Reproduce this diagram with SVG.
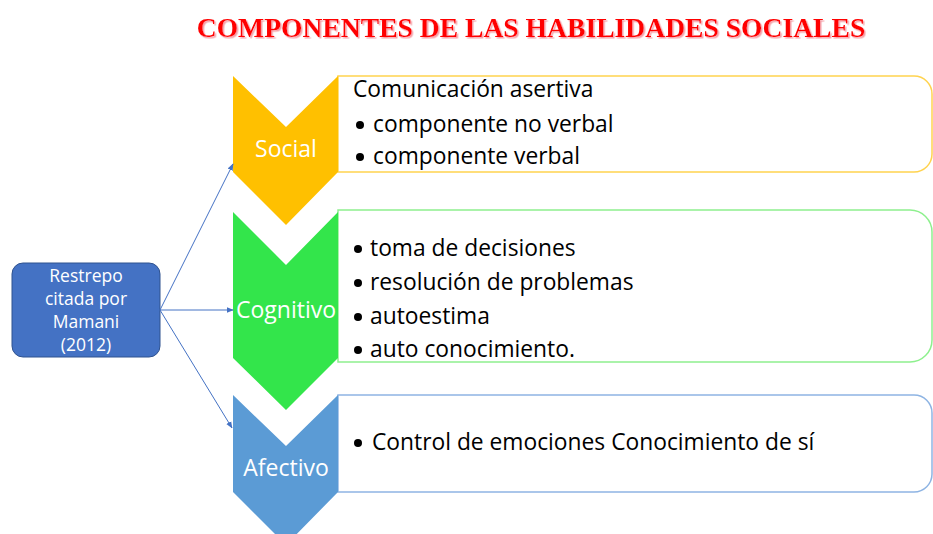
<svg xmlns="http://www.w3.org/2000/svg" width="933" height="534" viewBox="0 0 933 534">
<style>
.title{font-family:"Liberation Serif",serif;font-weight:bold;font-size:27.6px;fill:#FF0000;text-anchor:middle;}
.lbl{font-family:"Open Sans","Noto Sans",sans-serif;font-size:23px;fill:#FFFFFF;text-anchor:middle;}
.item{font-family:"Open Sans","Noto Sans",sans-serif;font-size:22.8px;fill:#000000;}
.src{font-family:"Open Sans","Noto Sans",sans-serif;font-size:17.5px;fill:#FFFFFF;text-anchor:middle;}
.conn{stroke:#4472C4;stroke-width:1;fill:none;marker-end:url(#arr);}
.box{fill:#FFFFFF;stroke-width:1.5;}
</style>
<defs>
<marker id="arr" viewBox="0 0 10 10" refX="9" refY="5" markerWidth="7" markerHeight="7" orient="auto" markerUnits="userSpaceOnUse">
<path d="M0,1 L10,5 L0,9 z" fill="#4472C4"/>
</marker>
<filter id="sh" filterUnits="userSpaceOnUse" x="150" y="0" width="780" height="60">
<feDropShadow dx="1.5" dy="1.5" stdDeviation="0.3" flood-color="#F5A0A8" flood-opacity="1"/>
</filter>
</defs>
<rect width="933" height="534" fill="#FFFFFF"/>
<g filter="url(#sh)">
<text class="title" x="531" y="37">COMPONENTES DE LAS HABILIDADES SOCIALES</text>
</g>

<g id="social">
<path class="box" stroke="#FFD34F" d="M338,76 H914 A18,18 0 0 1 932,94 V154 A18,18 0 0 1 914,172 H338 Z"/>
<path d="M233,76 L286,127 L338,76 V172 L286,225 L233,172 Z" fill="#FFC000"/>
<text class="lbl" x="286" y="157">Social</text>
<text class="item" x="353" y="97">Comunicación asertiva</text>
<circle cx="360" cy="125" r="4" fill="#000"/>
<text class="item" x="373" y="132">componente no verbal</text>
<circle cx="360" cy="157" r="4" fill="#000"/>
<text class="item" x="373" y="164">componente verbal</text>
</g>

<g id="cognitivo">
<path class="box" stroke="#8EF08E" d="M338,210 H910 A22,22 0 0 1 932,232 V340 A22,22 0 0 1 910,362 H338 Z"/>
<path d="M233,212 L286,265 L338,212 V358 L286,410 L233,358 Z" fill="#33E54B"/>
<text class="lbl" x="286" y="318">Cognitivo</text>
<circle cx="358" cy="249" r="4" fill="#000"/>
<text class="item" x="370" y="256">toma de decisiones</text>
<circle cx="358" cy="283" r="4" fill="#000"/>
<text class="item" x="370" y="290">resolución de problemas</text>
<circle cx="358" cy="317" r="4" fill="#000"/>
<text class="item" x="370" y="324">autoestima</text>
<circle cx="358" cy="350" r="4" fill="#000"/>
<text class="item" x="370" y="357">auto conocimiento.</text>
</g>

<g id="afectivo">
<path class="box" stroke="#8EB4E3" d="M338,395 H914 A18,18 0 0 1 932,413 V474 A18,18 0 0 1 914,492 H338 Z"/>
<path d="M233,395 L286,446 L338,395 V492 L286,545 L233,492 Z" fill="#5B9BD5"/>
<text class="lbl" x="286" y="476">Afectivo</text>
<circle cx="358" cy="443" r="4" fill="#000"/>
<text class="item" x="372" y="450">Control de emociones Conocimiento de sí</text>
</g>

<g id="source">
<rect x="12" y="263" width="148" height="94" rx="11" ry="11" fill="#4472C4" stroke="#2F528F" stroke-width="1"/>
<text class="src" x="86" y="282">Restrepo</text>
<text class="src" x="86" y="305">citada por</text>
<text class="src" x="86" y="328">Mamani</text>
<text class="src" x="86" y="351">(2012)</text>
</g>

<g id="connectors">
<line class="conn" x1="160" y1="310" x2="233" y2="164"/>
<line class="conn" x1="160" y1="310" x2="233" y2="310"/>
<line class="conn" x1="160" y1="310" x2="232" y2="428"/>
</g>
</svg>
